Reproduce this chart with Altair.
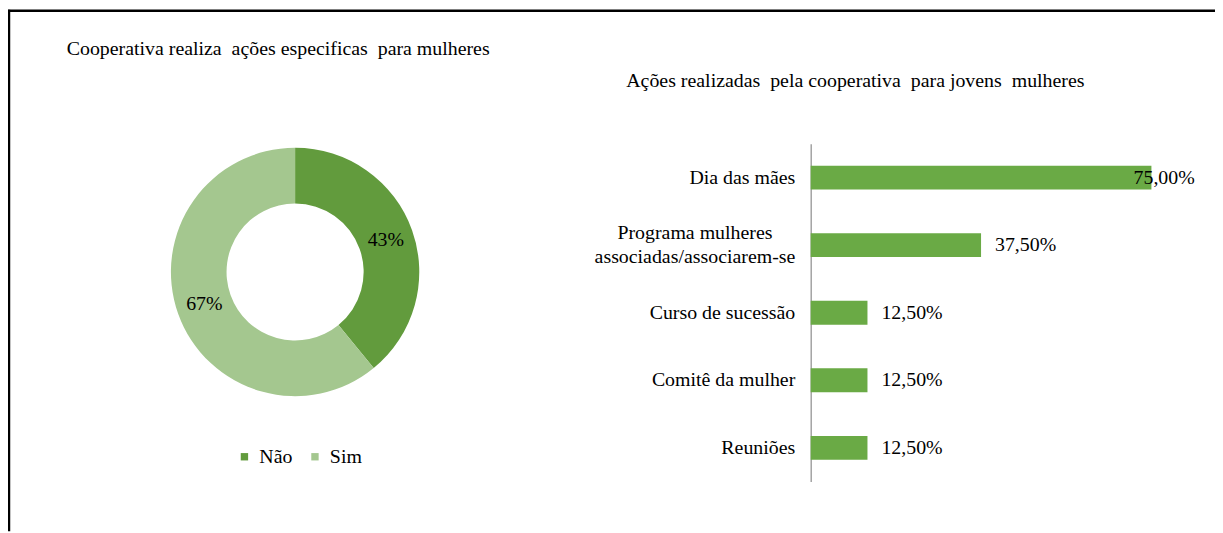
import altair as alt
import pandas as pd

# ---- data ----
donut_cats = ["Não", "Sim"]
donut_vals = [43, 67]
donut_colors = ["#629b3d", "#a4c78f"]

bar_cats = [
    "Dia das mães",
    "Programa mulheres\nassociadas/associarem-se",
    "Curso de sucessão",
    "Comitê da mulher",
    "Reuniões",
]
bar_vals = [75.0, 37.5, 12.5, 12.5, 12.5]

left_title = ["Cooperativa realiza\u00a0 ações especificas\u00a0 para mulheres"]
right_title = ["Ações realizadas\u00a0 pela cooperativa\u00a0 para jovens\u00a0 mulheres"]

FONT = "Liberation Serif"
W, H = 1215, 525

donut_df = pd.DataFrame({"cat": donut_cats, "v": donut_vals, "idx": list(range(len(donut_cats)))})
bar_df = pd.DataFrame({"cat": bar_cats, "v": bar_vals})
one = pd.DataFrame({"a": [0]})

# ---- frame ----
frame_left = alt.Chart(one).mark_rule(color="black", strokeWidth=2.5).encode(
    x=alt.value(1), y=alt.value(0), y2=alt.value(H)
)
frame_top = alt.Chart(one).mark_rule(color="black", strokeWidth=2.5).encode(
    x=alt.value(0), x2=alt.value(W), y=alt.value(1)
)

# ---- titles ----
t_left = alt.Chart(pd.DataFrame({"t": left_title})).mark_text(
    font=FONT, fontSize=20, color="black", align="center", baseline="middle"
).encode(text="t:N", x=alt.value(272), y=alt.value(40))
t_right = alt.Chart(pd.DataFrame({"t": right_title})).mark_text(
    font=FONT, fontSize=20, color="black", align="center", baseline="middle"
).encode(text="t:N", x=alt.value(853), y=alt.value(72))

# ---- donut ----
CX, CY = 289, 264
donut_base = alt.Chart(donut_df)
donut = donut_base.mark_arc(innerRadius=69, outerRadius=125, x=CX, y=CY).encode(
    theta=alt.Theta("v:Q", stack=True),
    order=alt.Order("idx:Q"),
    color=alt.Color(
        "cat:N",
        sort=donut_cats,
        scale=alt.Scale(domain=donut_cats, range=donut_colors),
        legend=alt.Legend(
            orient="none", legendX=228, legendY=440, direction="horizontal",
            title=None, labelFont=FONT, labelFontSize=20, labelColor="black",
            symbolType="square", symbolSize=55, symbolStrokeWidth=0,
            labelOffset=5, columnPadding=12, padding=0,
        ),
    ),
)
donut_text = donut_base.transform_calculate(
    lab="datum.v + '%'"
).mark_text(radius=97, x=CX, y=CY, font=FONT, fontSize=20, color="black").encode(
    theta=alt.Theta("v:Q", stack=True),
    order=alt.Order("idx:Q"),
    text="lab:N",
)

# ---- bars ----
X0, X1 = 808, 1151
xs = alt.Scale(domain=[0, 75], range=[X0, X1])
ys = alt.Scale(domain=bar_cats, range=[135, 475], paddingInner=0.647, paddingOuter=0.3235)
multi = "indexof(datum.value, '\\n') >= 0"
y_axis = alt.Axis(
    title=None, orient="left", offset=-X0, ticks=False,
    domainColor="#8c8c8c", domainWidth=1.2,
    labelFont=FONT, labelFontSize=20, labelColor="black",
    labelPadding={"condition": {"test": multi, "value": 117}, "value": 16},
    labelAlign={"condition": {"test": multi, "value": "center"}, "value": "right"},
    labelOffset={"condition": {"test": multi, "value": -12}, "value": 0},
    labelLineHeight=24, labelLimit=400,
    labelExpr="split(datum.label, '\\n')",
)
bars = alt.Chart(bar_df).mark_bar(color="#6aaa45").encode(
    x=alt.X("v:Q", scale=xs, axis=None),
    y=alt.Y("cat:N", sort=bar_cats, scale=ys, axis=y_axis),
)
bar_text = alt.Chart(bar_df).transform_calculate(
    lab="replace(format(datum.v, '.2f'), '.', ',') + '%'",
    pos="min(datum.v, 68)",
).mark_text(align="left", baseline="middle", dx=14, font=FONT, fontSize=20, color="black").encode(
    x=alt.X("pos:Q", scale=xs, axis=None),
    y=alt.Y("cat:N", sort=bar_cats, scale=ys, axis=y_axis),
    text="lab:N",
)

chart = alt.layer(
    frame_left, frame_top, t_left, t_right, donut, donut_text, bars, bar_text
).properties(
    width=W, height=H, autosize=alt.AutoSizeParams(type="none"), padding=0
).configure_view(stroke=None)

chart.save("out.html", embed_options={"renderer": "svg", "actions": False})
